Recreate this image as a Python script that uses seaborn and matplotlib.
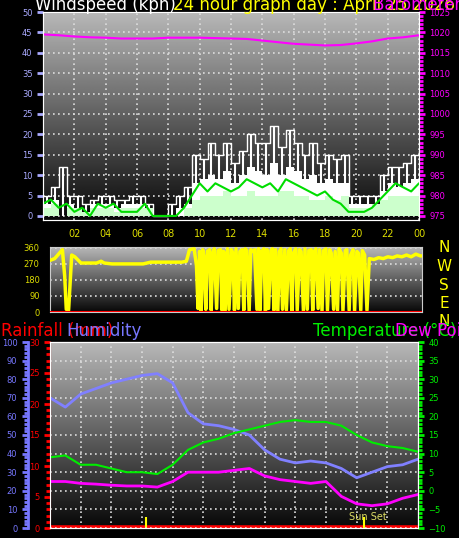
import numpy as np
import matplotlib
matplotlib.use('Agg')
import matplotlib.pyplot as plt
import seaborn as sns

sns.set_style('dark')
plt.rcParams['font.family'] = ['DejaVu Sans']

# ---- data ----
half_hours = np.arange(0, 24.01, 0.5)
wind_gust = [5, 7, 12, 5, 5, 3, 4, 5, 5, 4, 4, 5, 5, 3, 0, 0, 3, 5, 7, 15, 14, 18, 15, 18, 13,
             16, 20, 18, 18, 22, 17, 21, 18, 15, 18, 13, 15, 14, 15, 5, 5, 5, 5, 10, 12, 12, 13, 15, 16]
wind_low = [3, 4, 0, 3, 2, 1, 3, 3, 3, 2, 3, 3, 3, 1, 0, 0, 0, 2, 3, 8, 9, 10, 9, 11, 8,
            10, 12, 11, 10, 13, 10, 12, 11, 9, 10, 8, 9, 8, 8, 3, 3, 3, 3, 6, 8, 7, 8, 9, 10]
wind_speed = [2, 3, 0, 2, 2, 1, 2, 2, 2, 1, 2, 2, 2, 2, 0, 0, 0, 0, 2, 4, 5, 5, 5, 6, 5,
              5, 6, 5, 5, 5, 6, 6, 5, 5, 4, 4, 5, 4, 5, 2, 2, 2, 3, 4, 5, 5, 5, 5, 6]
wind_avg = [3, 4, 2, 3, 1, 2, 0, 3, 2, 3, 1, 1, 1, 3, 0, 0, 0, 0, 2, 5, 8, 6, 8, 7, 6,
            7, 9, 8, 7, 8, 6, 9, 8, 7, 6, 5, 6, 4, 3, 1, 1, 1, 2, 4, 6, 8, 7, 6, 8]

hours = np.arange(0, 25, 1)
pressure = [1019.5, 1019.3, 1019.0, 1018.8, 1018.7, 1018.5, 1018.5, 1018.5, 1018.7, 1018.7,
            1018.7, 1018.6, 1018.5, 1018.4, 1018.0, 1017.6, 1017.2, 1017.0, 1016.8, 1016.9,
            1017.3, 1017.8, 1018.5, 1018.8, 1019.3]

dir_time = [0, 0.3, 0.6, 0.8, 0.95, 1.05, 1.2, 1.4, 1.6, 2.0, 3.0, 3.3, 3.5, 4.0, 6.0, 6.5,
            8.5, 8.8, 9.0, 9.3,
            9.45, 9.55, 9.65, 9.75, 9.85, 9.95, 10.05, 10.15, 10.3, 10.4, 10.5, 10.6, 10.75,
            10.85, 11.0, 11.1, 11.2, 11.3, 11.45, 11.55, 11.7, 11.8, 11.9, 12.0, 12.15, 12.25,
            12.4, 12.5, 12.6, 12.7, 12.85, 12.95, 13.05, 13.2, 13.35, 13.45, 13.55, 13.65,
            13.8, 13.9, 14.0, 14.1, 14.25, 14.35, 14.45, 14.55, 14.7, 14.8, 14.9, 15.0, 15.15,
            15.25, 15.4, 15.5, 15.6, 15.7, 15.85, 15.95, 16.1, 16.2, 16.35, 16.45, 16.6, 16.7,
            16.85, 16.95, 17.05, 17.15, 17.3, 17.4, 17.55, 17.65, 17.8, 17.9, 18.05, 18.15,
            18.3, 18.4, 18.55, 18.65, 18.8, 18.9, 19.05, 19.15, 19.3, 19.4, 19.55, 19.65,
            19.8, 19.9, 20.05, 20.15, 20.3, 20.45,
            20.6, 20.9, 21.2, 21.5, 21.8, 22.1, 22.4, 22.7, 23.0, 23.3, 23.6, 23.9, 24.0]
dir_value = [290, 300, 330, 350, 200, 15, 10, 320, 310, 275, 275, 285, 275, 270, 270, 280,
             280, 285, 350, 355,
             260, 20, 340, 5, 350, 300, 15, 340, 350, 10, 330, 355, 20, 345, 350, 10, 340, 5,
             355, 15, 350, 330, 10, 355, 20, 340, 350, 10, 355, 345, 5, 350, 340, 350, 15,
             355, 10, 340, 355, 5, 350, 20, 345, 355, 10, 350, 5, 340, 355, 15, 350, 10, 345,
             355, 5, 330, 355, 10, 350, 340, 5, 355, 15, 345, 350, 10, 340, 355, 20, 350, 5,
             345, 355, 10, 350, 330, 15, 340, 10, 355, 330, 5, 345, 350, 10, 320, 350, 5,
             340, 330, 10, 345, 320, 10,
             300, 295, 305, 300, 310, 305, 315, 310, 320, 310, 325, 315, 315]

humidity = [70, 65, 72, 75, 78, 80, 82, 83, 78, 62, 56, 55, 53, 50, 42, 37, 35, 36, 35, 32,
            27, 30, 33, 34, 37]
temperature = [9, 9.5, 7, 7, 6, 5, 5, 4.5, 7, 11, 13, 14, 15.5, 16.5, 17.5, 18.5, 19, 18.5,
               18.5, 17.5, 15, 13, 12, 11.5, 10.5]
dew_point = [2.5, 2.5, 2, 1.8, 1.5, 1.3, 1.3, 1.0, 2.5, 5, 5, 5, 5.5, 6, 4, 3, 2.5, 2, 2.5,
             -1.5, -3.5, -4, -3.5, -2, -1]
rainfall = [0] * 25
sunrise, sunset = 6.26, 20.5

# ---- figure ----
W, H = 460, 538
fig = plt.figure(figsize=(W / 100, H / 100), dpi=100, facecolor='black')


def add_px_axes(x0, y0, x1, y1):
    return fig.add_axes([x0 / W, 1 - y1 / H, (x1 - x0) / W, (y1 - y0) / H])


def gradient(ax, top, bottom):
    g = np.linspace(top, bottom, 256).reshape(-1, 1)
    ax.imshow(g, cmap='gray', vmin=0, vmax=1, aspect='auto', extent=[0, 1, 0, 1],
              transform=ax.transAxes, zorder=0)


def style_axis(ax, color):
    ax.tick_params(axis='y', colors=color, labelsize=6, length=4, width=2, direction='out')
    ax.tick_params(axis='y', which='minor', colors=color, length=3, width=2)


grid_kw = dict(color='#dddddd', linestyle=(0, (1, 2)), linewidth=1.2)

# top panel: wind + pressure
ax1 = add_px_axes(43, 12, 419, 220)
gradient(ax1, 0.72, 0.03)
ax1.fill_between(half_hours, wind_low, step='post', color='white', zorder=2, lw=0)
ax1.vlines(half_hours + 0.25, wind_low, wind_gust, color='white', lw=1.5, zorder=2)
sns.lineplot(x=half_hours, y=wind_gust, ax=ax1, color='white', lw=1, zorder=2,
             drawstyle='steps-post')
ax1.fill_between(half_hours, wind_speed, step='post', color='#ccffcc', zorder=3, lw=0)
sns.lineplot(x=half_hours, y=wind_avg, ax=ax1, color='#00dd00', lw=1.5, zorder=4)
ax1.set_xlim(0, 24)
ax1.set_ylim(-1, 50)
ax1.set_yticks(range(0, 51, 5))
ax1.set_xticks(range(2, 25, 2))
ax1.set_xticklabels(['02', '04', '06', '08', '10', '12', '14', '16', '18', '20', '22', '00'])
ax1.tick_params(axis='x', colors='#dddd00', labelsize=7, length=3)
style_axis(ax1, '#aaaaff')
for s in ax1.spines.values():
    s.set_color('#cccccc')
ax1.grid(True, **grid_kw)
ax1p = ax1.twinx()
sns.lineplot(x=hours, y=pressure, ax=ax1p, color='#ff00ff', lw=1.5)
ax1p.set_ylim(974, 1025)
ax1p.set_yticks(range(975, 1026, 5))
ax1p.set_yticks(range(975, 1026, 1), minor=True)
style_axis(ax1p, '#ff00ff')
ax1p.grid(False)

# middle panel: wind direction
ax2 = add_px_axes(50, 247, 422, 312)
gradient(ax2, 0.72, 0.03)
sns.lineplot(x=dir_time, y=dir_value, ax=ax2, color='yellow', lw=2.5, zorder=3,
             sort=False)
ax2.axhline(0, color='red', lw=1.5, zorder=4)
ax2.set_xlim(0, 24)
ax2.set_ylim(0, 365)
ax2.set_yticks([0, 90, 180, 270, 360])
ax2.set_yticks(range(0, 361, 18), minor=True)
ax2.set_xticks(range(2, 25, 2))
ax2.set_xticklabels([])
ax2.tick_params(axis='x', length=0)
style_axis(ax2, '#dddd00')
ax2.xaxis.grid(False)
ax2.yaxis.grid(True, **grid_kw)
for s in ax2.spines.values():
    s.set_color('#cccccc')
for i, c in enumerate('NWSEN'):
    fig.text(444 / W, 1 - (248 + i * 18.5) / H, c, color='yellow', fontsize=11,
             ha='center', va='center')

# bottom panel
ax3 = add_px_axes(50, 342, 418, 528)
gradient(ax3, 0.72, 0.03)
ax3.set_xlim(0, 24)
ax3.set_ylim(0, 30)
sns.lineplot(x=hours, y=rainfall, ax=ax3, color='red', lw=4, zorder=5)
ax3.set_yticks(range(0, 31, 5))
ax3.set_yticks(range(0, 31, 1), minor=True)
style_axis(ax3, 'red')
ax3.set_xticks(range(0, 25, 1))
ax3.set_xticklabels([])
ax3.tick_params(axis='x', colors='#bbbbbb', length=3, width=1.5)
for s in ax3.spines.values():
    s.set_color('#cccccc')
ax3.spines['left'].set_color('red')
for x in range(2, 24, 2):
    ax3.axvline(x, zorder=1, **grid_kw)
for t in (sunrise, sunset):
    ax3.vlines(t, 0, 1.8, color='yellow', lw=1.5, zorder=6)
ax3.text(sunset - 1, 1.3, 'Sun Set', color='#dddd66', fontsize=7, zorder=6)

ax3h = ax3.twinx()
ax3h.yaxis.tick_left()
ax3h.spines['left'].set_position(('outward', 16))
ax3h.spines['left'].set_color('#7777ff')
ax3h.spines['left'].set_linewidth(2)
sns.lineplot(x=hours, y=humidity, ax=ax3h, color='#8080ff', lw=2)
ax3h.set_ylim(0, 100)
ax3h.set_yticks(range(0, 101, 10))
ax3h.set_yticks(range(0, 101, 2), minor=True)
style_axis(ax3h, '#7777ff')
ax3h.yaxis.grid(True, **grid_kw)

ax3t = ax3.twinx()
sns.lineplot(x=hours, y=temperature, ax=ax3t, color='#00ee00', lw=1.5)
sns.lineplot(x=hours, y=dew_point, ax=ax3t, color='#ff00ff', lw=2)
ax3t.set_ylim(-10, 40)
ax3t.set_yticks(range(-10, 41, 5))
ax3t.set_yticks(range(-10, 41, 1), minor=True)
style_axis(ax3t, '#00ee00')
ax3t.grid(False)
for a in (ax1, ax2, ax3, ax3h, ax3t, ax1p):
    a.set_xlabel('')
    a.set_ylabel('')

# titles
tk = dict(fontsize=12, va='center')
fig.text(35 / W, 1 - 5 / H, 'Windspeed (kph)', color='white', **tk)
fig.text(173 / W, 1 - 5 / H, '24 hour graph day : April 25 2026', color='yellow', **tk)
fig.text(373 / W, 1 - 5 / H, 'Barometer (hPa)', color='#ff00ff', **tk)
fig.text(1 / W, 1 - 331 / H, 'Rainfall (mm)', color='red', **tk)
fig.text(66 / W, 1 - 331 / H, 'Humidity', color='#7777ff', **tk)
fig.text(313 / W, 1 - 331 / H, 'Temperature (°C)', color='#00ee00', **tk)
fig.text(395 / W, 1 - 331 / H, 'Dew Point', color='#ff00ff', **tk)

fig.savefig('out.png', dpi=100, facecolor='black')
